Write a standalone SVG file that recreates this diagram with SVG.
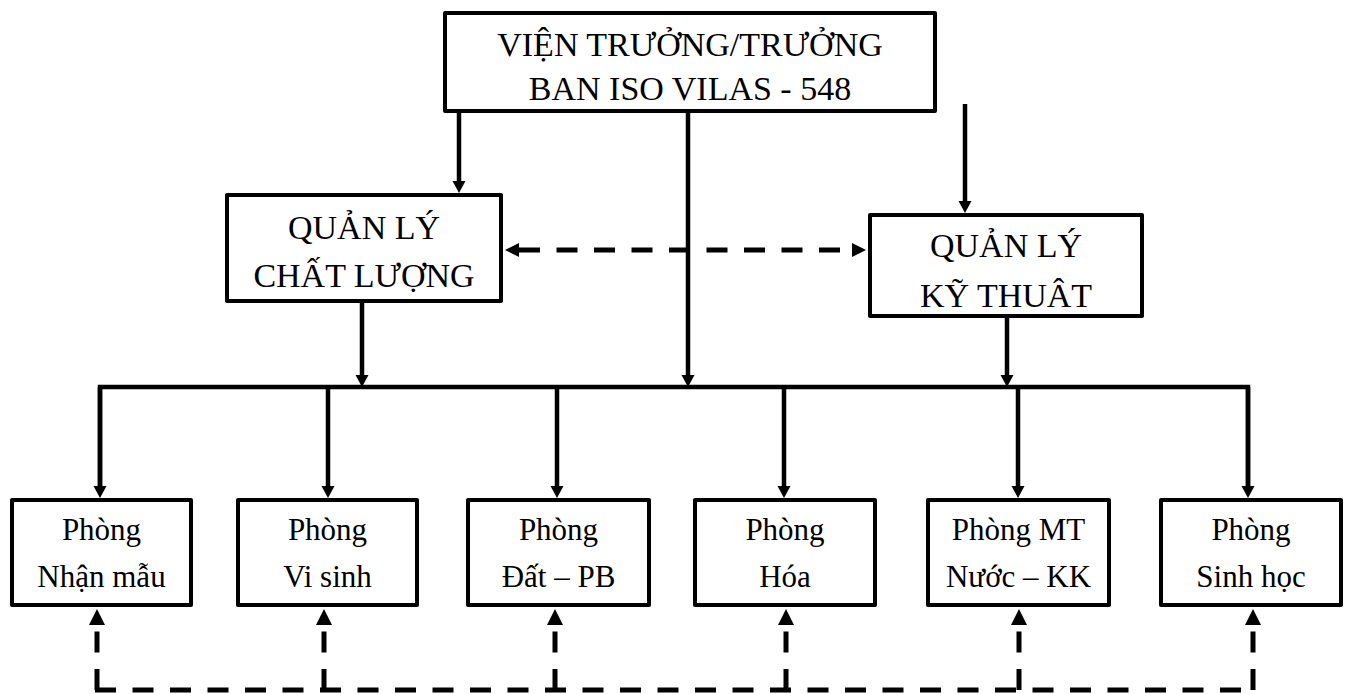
<svg xmlns="http://www.w3.org/2000/svg" width="1345" height="694" viewBox="0 0 1345 694">
<style>
.box{fill:#fff;stroke:#000;stroke-width:4;stroke-linejoin:round}
.t1{font-family:"Liberation Serif","Times New Roman",serif;font-size:34px;fill:#000;text-anchor:middle}
.t2{font-family:"Liberation Serif","Times New Roman",serif;font-size:31px;fill:#000;text-anchor:middle}
.ln{fill:none;stroke:#000;stroke-width:4.5}
.ds{fill:none;stroke:#000;stroke-width:5;stroke-dasharray:21 16.5}
</style>
<defs>
<marker id="ah" markerUnits="userSpaceOnUse" markerWidth="14" markerHeight="14" refX="0" refY="6.5" orient="auto"><path d="M0,0 L12,6.5 L0,13 z" fill="#000"/></marker>
<marker id="ahm" markerUnits="userSpaceOnUse" markerWidth="16" markerHeight="16" refX="0" refY="7" orient="auto-start-reverse"><path d="M0,0 L14,7 L0,14 z" fill="#000"/></marker>
<marker id="ahd" markerUnits="userSpaceOnUse" markerWidth="18" markerHeight="18" refX="0" refY="8" orient="auto"><path d="M0,0 L16,8 L0,16 z" fill="#000"/></marker>
</defs>
<g id="connectors">
<path class="ln" d="M459,113 V181" marker-end="url(#ah)"/>
<path class="ln" d="M688,113 V375" marker-end="url(#ah)"/>
<path class="ln" d="M965,104 V201" marker-end="url(#ah)"/>
<path class="ln" d="M362,303 V375" marker-end="url(#ah)"/>
<path class="ln" d="M1007,318 V375" marker-end="url(#ah)"/>
<path class="ln" d="M100,486 V387 H1248 V486" />
<path class="ln" d="M100,387 V486" marker-end="url(#ah)"/>
<path class="ln" d="M1248,387 V486" marker-end="url(#ah)"/>
<path class="ln" d="M328,387 V486" marker-end="url(#ah)"/>
<path class="ln" d="M557,387 V486" marker-end="url(#ah)"/>
<path class="ln" d="M784,387 V486" marker-end="url(#ah)"/>
<path class="ln" d="M1018,387 V486" marker-end="url(#ah)"/>
<path class="ds" d="M519,250 H852" marker-start="url(#ahm)" marker-end="url(#ahm)"/>
<path class="ds" d="M95,690 H1255"/>
<path class="ds" d="M97,690 V625" marker-end="url(#ahd)"/>
<path class="ds" d="M324,690 V625" marker-end="url(#ahd)"/>
<path class="ds" d="M555,690 V625" marker-end="url(#ahd)"/>
<path class="ds" d="M786,690 V625" marker-end="url(#ahd)"/>
<path class="ds" d="M1019,690 V625" marker-end="url(#ahd)"/>
<path class="ds" d="M1253,690 V625" marker-end="url(#ahd)"/>
</g>
<g id="vien-truong">
<rect class="box" x="445" y="13" width="490" height="98"/>
<text class="t1" x="690" y="56">VIỆN TRƯỞNG/TRƯỞNG</text>
<text class="t1" x="690" y="100">BAN ISO VILAS - 548</text>
</g>
<g id="ql-chat-luong">
<rect class="box" x="227" y="195" width="274" height="106"/>
<text class="t1" x="364" y="239">QUẢN LÝ</text>
<text class="t1" x="364" y="287">CHẤT LƯỢNG</text>
</g>
<g id="ql-ky-thuat">
<rect class="box" x="870" y="215" width="272" height="101"/>
<text class="t1" x="1006" y="257">QUẢN LÝ</text>
<text class="t1" x="1006" y="307">KỸ THUÂT</text>
</g>
<g id="phong-nhan-mau">
<rect class="box" x="12" y="500" width="179" height="105"/>
<text class="t2" x="101.5" y="540">Phòng</text>
<text class="t2" x="101.5" y="587">Nhận mẫu</text>
</g>
<g id="phong-vi-sinh">
<rect class="box" x="238" y="500" width="179" height="105"/>
<text class="t2" x="327.5" y="540">Phòng</text>
<text class="t2" x="327.5" y="587">Vi sinh</text>
</g>
<g id="phong-dat-pb">
<rect class="box" x="468" y="500" width="181" height="105"/>
<text class="t2" x="558.5" y="540">Phòng</text>
<text class="t2" x="558.5" y="587">Đất – PB</text>
</g>
<g id="phong-hoa">
<rect class="box" x="695" y="500" width="180" height="105"/>
<text class="t2" x="785" y="540">Phòng</text>
<text class="t2" x="785" y="587">Hóa</text>
</g>
<g id="phong-mt">
<rect class="box" x="928" y="500" width="181" height="105"/>
<text class="t2" x="1018.5" y="540">Phòng MT</text>
<text class="t2" x="1018.5" y="587">Nước – KK</text>
</g>
<g id="phong-sinh-hoc">
<rect class="box" x="1161" y="500" width="180" height="105"/>
<text class="t2" x="1251" y="540">Phòng</text>
<text class="t2" x="1251" y="587">Sinh học</text>
</g>
</svg>
